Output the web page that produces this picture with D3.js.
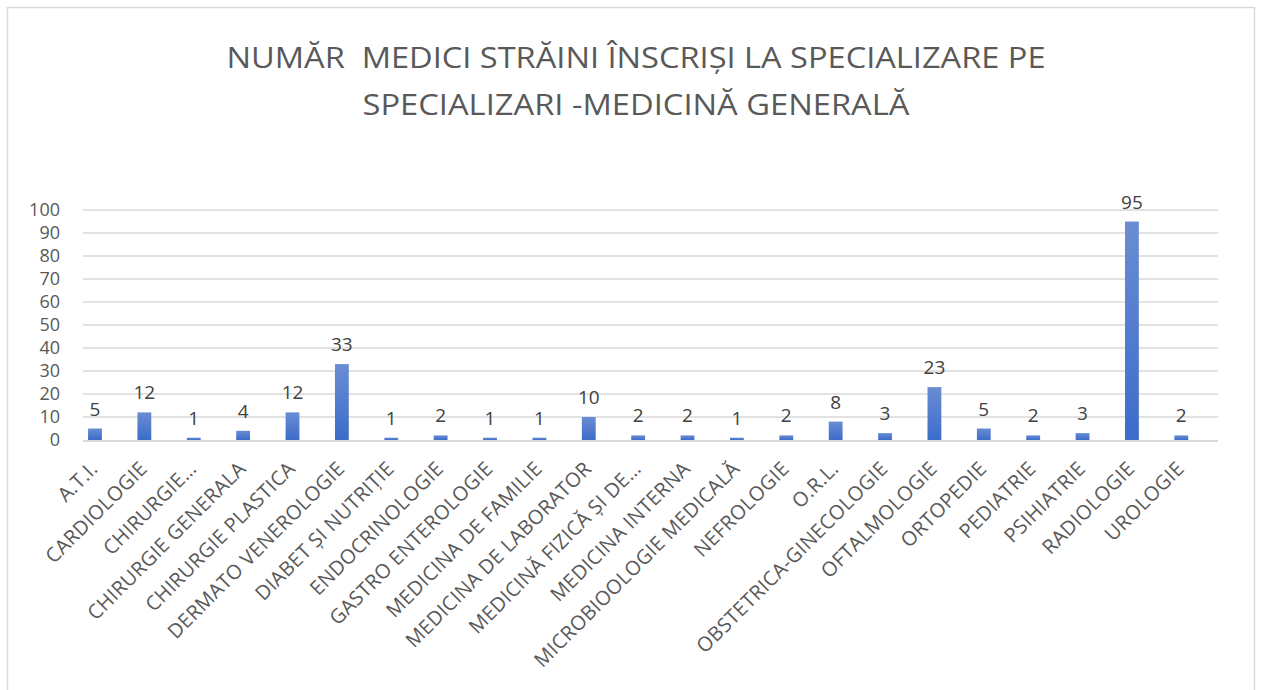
<!DOCTYPE html>
<html>
<head>
<meta charset="utf-8">
<script src="https://cdn.jsdelivr.net/npm/d3@7"></script>
<style>
  body { margin: 0; background: #fff; }
  svg { display: block; }
</style>
</head>
<body>
<svg id="chart" width="1262" height="690"></svg>
<script>
// chart data
const categories = [
  'A.T.I.', 'CARDIOLOGIE', 'CHIRURGIE…', 'CHIRURGIE GENERALA', 'CHIRURGIE PLASTICA',
  'DERMATO VENEROLOGIE', 'DIABET ȘI NUTRIȚIE', 'ENDOCRINOLOGIE', 'GASTRO ENTEROLOGIE',
  'MEDICINA DE FAMILIE', 'MEDICINA DE LABORATOR', 'MEDICINĂ FIZICĂ ȘI DE…', 'MEDICINA INTERNA',
  'MICROBIOOLOGIE MEDICALĂ', 'NEFROLOGIE', 'O.R.L.', 'OBSTETRICA-GINECOLOGIE', 'OFTALMOLOGIE',
  'ORTOPEDIE', 'PEDIATRIE', 'PSIHIATRIE', 'RADIOLOGIE', 'UROLOGIE'
];
const values = [5, 12, 1, 4, 12, 33, 1, 2, 1, 1, 10, 2, 2, 1, 2, 8, 3, 23, 5, 2, 3, 95, 2];
const yTicks = [0, 10, 20, 30, 40, 50, 60, 70, 80, 90, 100];
const titleLines = [
  'NUMĂR  MEDICI STRĂINI ÎNSCRIȘI LA SPECIALIZARE PE',
  'SPECIALIZARI -MEDICINĂ GENERALĂ'
];

// layout constants
const FONT = '"Open Sans", "Noto Sans", sans-serif';
const GRAY_TEXT = '#595959';
const DARK_TEXT = '#404040';
const GRID = '#d9d9d9';
const gridX0 = 83;
const gridX1 = 1218;

const svg = d3.select('#chart');

// outer chart border
svg.append('rect')
  .attr('x', 7.5).attr('y', 7.5)
  .attr('width', 1247).attr('height', 700)
  .attr('fill', '#fff')
  .attr('stroke', '#d9d9d9')
  .attr('stroke-width', 1.5);

// gradient for bars
const grad = svg.append('defs').append('linearGradient')
  .attr('id', 'barGrad')
  .attr('x1', 0).attr('y1', 0).attr('x2', 0).attr('y2', 1);
grad.append('stop').attr('offset', '0%').attr('stop-color', '#6a8dd3');
grad.append('stop').attr('offset', '100%').attr('stop-color', '#3c6cca');

// scales
const x = d3.scaleBand()
  .domain(categories)
  .range([70.3, 1206])
  .paddingInner(0.72)
  .paddingOuter(0.36);

const y = d3.scaleLinear()
  .domain([0, 100])
  .range([440, 210]);

// title (keep the double space of the original)
svg.append('g')
  .selectAll('text')
  .data(titleLines)
  .join('text')
  .attr('x', 636)
  .attr('y', (d, i) => 68 + i * 47)
  .attr('text-anchor', 'middle')
  .attr('font-family', FONT)
  .attr('font-size', 30)
  .attr('fill', GRAY_TEXT)
  .style('white-space', 'pre')
  .attr('textLength', (d, i) => i === 0 ? 819 : 547)
  .attr('lengthAdjust', 'spacingAndGlyphs')
  .text(d => d);

// gridlines
svg.append('g')
  .selectAll('line')
  .data(yTicks.filter(t => t > 0))
  .join('line')
  .attr('x1', gridX0)
  .attr('x2', gridX1)
  .attr('y1', d => y(d))
  .attr('y2', d => y(d))
  .attr('stroke', GRID)
  .attr('stroke-width', 1.5);

// y tick labels
svg.append('g')
  .selectAll('text')
  .data(yTicks)
  .join('text')
  .attr('x', 60)
  .attr('y', d => y(d))
  .attr('dy', '0.35em')
  .attr('text-anchor', 'end')
  .attr('font-family', FONT)
  .attr('font-size', 18)
  .attr('fill', GRAY_TEXT)
  .text(d => d);

// baseline axis
svg.append('line')
  .attr('x1', gridX0)
  .attr('x2', gridX1)
  .attr('y1', y(0) + 1)
  .attr('y2', y(0) + 1)
  .attr('stroke', GRID)
  .attr('stroke-width', 2);

// bars
svg.append('g')
  .selectAll('rect')
  .data(values)
  .join('rect')
  .attr('x', (d, i) => x(categories[i]))
  .attr('y', d => y(d))
  .attr('width', x.bandwidth())
  .attr('height', d => y(0) - y(d))
  .attr('fill', 'url(#barGrad)');

// value labels
svg.append('g')
  .selectAll('text')
  .data(values)
  .join('text')
  .attr('x', (d, i) => x(categories[i]) + x.bandwidth() / 2)
  .attr('y', d => y(d) - 13)
  .attr('text-anchor', 'middle')
  .attr('font-family', FONT)
  .attr('font-size', 19)
  .attr('fill', DARK_TEXT)
  .text(d => d);

// category labels, rotated
svg.append('g')
  .selectAll('text')
  .data(categories)
  .join('text')
  .attr('transform', d => `translate(${x(d) + x.bandwidth() / 2 + 4},${y(0) + 30}) rotate(-45)`)
  .attr('text-anchor', 'end')
  .attr('font-family', FONT)
  .attr('font-size', 20)
  .attr('letter-spacing', 0.3)
  .attr('fill', GRAY_TEXT)
  .text(d => d);
</script>
</body>
</html>
